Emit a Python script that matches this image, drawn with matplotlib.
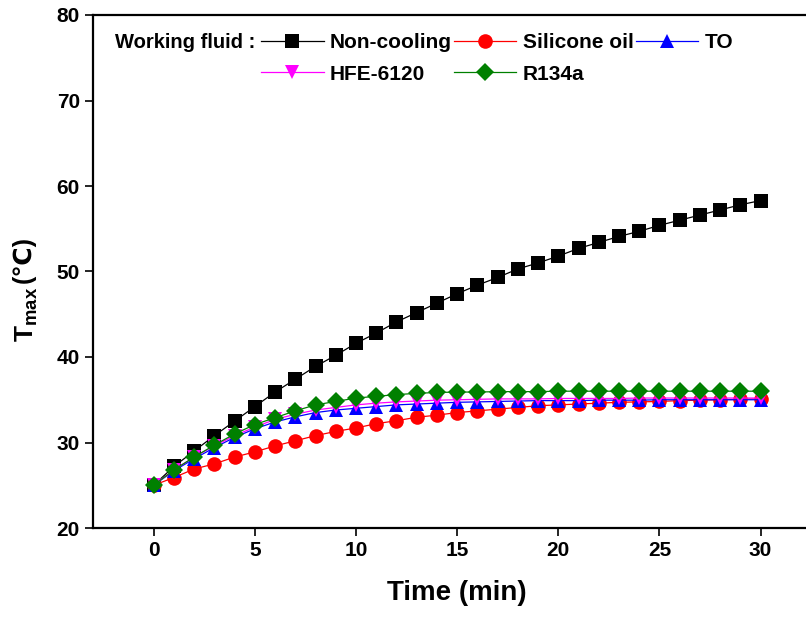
import matplotlib
matplotlib.use("Agg")
import matplotlib.pyplot as plt

# Time (min) and T_max (degC) per working fluid
time_min = list(range(31))
non_cooling = [25.0, 27.2, 29.0, 30.8, 32.5, 34.2, 35.9, 37.4, 38.9, 40.2,
               41.6, 42.8, 44.1, 45.2, 46.3, 47.4, 48.4, 49.3, 50.3, 51.0,
               51.8, 52.7, 53.4, 54.1, 54.7, 55.4, 56.0, 56.6, 57.2, 57.8, 58.3]
silicone_oil = [25.0, 25.9, 26.9, 27.5, 28.3, 28.9, 29.6, 30.2, 30.8, 31.3,
                31.7, 32.2, 32.55, 32.95, 33.2, 33.5, 33.7, 33.9, 34.1, 34.3,
                34.4, 34.5, 34.6, 34.7, 34.75, 34.8, 34.9, 34.95, 35.0, 35.05, 35.1]
to_fluid = [25.0, 26.7, 28.1, 29.4, 30.6, 31.6, 32.4, 33.0, 33.5, 33.8,
            34.0, 34.2, 34.4, 34.5, 34.6, 34.7, 34.75, 34.8, 34.85, 34.9,
            34.9, 34.9, 34.95, 34.95, 34.95, 35.0, 35.0, 35.0, 35.0, 35.0, 35.0]
hfe_6120 = [25.0, 26.8, 28.3, 29.6, 30.8, 31.8, 32.7, 33.3, 33.8, 34.1,
            34.4, 34.6, 34.75, 34.85, 34.95, 35.0, 35.05, 35.1, 35.1, 35.1,
            35.15, 35.15, 35.15, 35.15, 35.2, 35.2, 35.2, 35.2, 35.2, 35.2, 35.2]
r134a = [25.0, 26.8, 28.3, 29.7, 31.0, 32.1, 32.9, 33.7, 34.4, 34.8,
         35.2, 35.4, 35.6, 35.75, 35.85, 35.9, 35.9, 35.95, 35.95, 35.95,
         36.0, 36.0, 36.0, 36.0, 36.0, 36.0, 36.0, 36.0, 36.0, 36.0, 36.0]

labels = ["Non-cooling", "Silicone oil", "TO", "HFE-6120", "R134a"]
x_ticks = [0, 5, 10, 15, 20, 25, 30]
y_ticks = [20, 30, 40, 50, 60, 70, 80]

plt.rcParams["font.family"] = ["Liberation Sans", "DejaVu Sans"]
plt.rcParams["font.weight"] = "bold"
plt.rcParams["mathtext.fontset"] = "custom"
plt.rcParams["mathtext.rm"] = "Liberation Sans"
plt.rcParams["mathtext.bf"] = "Liberation Sans:bold"

W, H = 806, 620
fig = plt.figure(figsize=(W / 100, H / 100), dpi=100)
# axes box: x=-3 at 93 px, 20.23 px/min; y=80 at 15 px, y=20 at 528 px
left, bottom_px, top_px = 93, 528, 15
xmax = 33
right = left + (xmax + 3) * 20.23
ax = fig.add_axes([left / W, (H - bottom_px) / H, (right - left) / W,
                   (bottom_px - top_px) / H])

styles = [
    (non_cooling, "black", "s", 10),
    (silicone_oil, "red", "o", 10.5),
    (to_fluid, "blue", "^", 10),
    (hfe_6120, "magenta", "v", 10),
    (r134a, "#008000", "D", 9.5),
]
handles = []
for (vals, col, mk, ms), lab in zip(styles, labels):
    h, = ax.plot(time_min, vals, color=col, marker=mk, markersize=ms,
                 linewidth=0.9, markeredgewidth=0, label=lab)
    handles.append(h)

ax.set_xlim(-3, xmax)
ax.set_ylim(20, 80)
ax.set_xticks(x_ticks)
ax.set_yticks(y_ticks)
ax.tick_params(axis="both", direction="out", length=6, width=1.2,
               labelsize=15, top=False, right=False)
for s in ax.spines.values():
    s.set_linewidth(1.6)

ax.set_xlabel("Time (min)", fontsize=20, fontweight="bold", labelpad=14)

# y label in two pieces so the degree-Celsius sign can fall back to DejaVu
fig.text(13 / W, 1 - 342 / H, r"$\mathbf{T}_{\mathrm{max}}$", fontsize=19,
         rotation=90, ha="left", va="bottom")
fig.text(12 / W, 1 - 283 / H, "(\u2103)", fontsize=18, fontweight="bold",
         rotation=90, ha="left", va="bottom")

# legend laid out row-wise: matplotlib fills columns, so reorder
order = [0, 3, 1, 4, 2]
leg = fig.legend([handles[i] for i in order], [labels[i] for i in order],
                 ncol=3, loc="upper left",
                 bbox_to_anchor=(261 / W, 1 - 33 / H), frameon=False,
                 fontsize=15, handlelength=3.0, handletextpad=0.3,
                 columnspacing=0.1, labelspacing=0.6, borderpad=0,
                 borderaxespad=0, numpoints=1)
for t in leg.get_texts():
    t.set_fontweight("bold")
fig.text(115 / W, 1 - 42 / H, "Working fluid :", fontsize=14.5,
         fontweight="bold", va="center", ha="left")

fig.savefig("out.png", dpi=100)
